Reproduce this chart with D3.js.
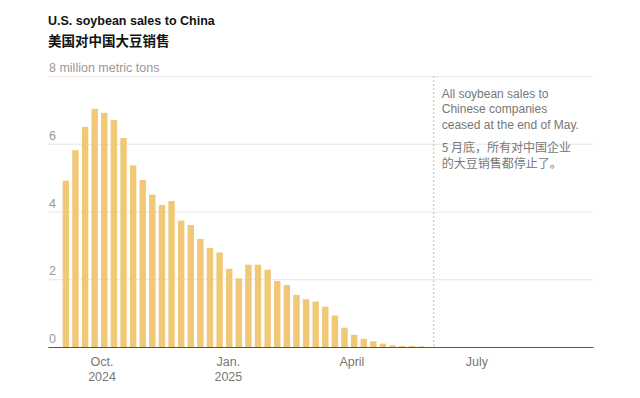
<!DOCTYPE html>
<html>
<head>
<meta charset="utf-8">
<script src="https://cdn.jsdelivr.net/npm/d3@7"></script>
<style>
  body { margin: 0; background: #fff; }
  text { font-family: "Liberation Sans", Arial, sans-serif; }
  .cjk { font-family: "Noto Sans CJK SC", sans-serif; }
</style>
</head>
<body>
<div id="chart"></div>
<script>
const width = 640;
const height = 398;
const margin = { top: 76, bottom: 51, left: 48, right: 47 };

// weekly export sales, week ending (Thursday)
const weeks = [
  "2024-09-05","2024-09-12","2024-09-19","2024-09-26",
  "2024-10-03","2024-10-10","2024-10-17","2024-10-24","2024-10-31",
  "2024-11-07","2024-11-14","2024-11-21","2024-11-28",
  "2024-12-05","2024-12-12","2024-12-19","2024-12-26",
  "2025-01-02","2025-01-09","2025-01-16","2025-01-23","2025-01-30",
  "2025-02-06","2025-02-13","2025-02-20","2025-02-27",
  "2025-03-06","2025-03-13","2025-03-20","2025-03-27",
  "2025-04-03","2025-04-10","2025-04-17","2025-04-24",
  "2025-05-01","2025-05-08","2025-05-15","2025-05-22"
];
// million metric tons
const sales = [
  4.91, 5.81, 6.50, 7.03, 6.91, 6.70, 6.17, 5.36, 4.93,
  4.50, 4.19, 4.31, 3.73, 3.60, 3.19, 2.92, 2.79,
  2.31, 2.03, 2.43, 2.43, 2.28, 1.95, 1.83, 1.54, 1.41,
  1.34, 1.19, 0.93, 0.57, 0.36, 0.24, 0.17, 0.10,
  0.05, 0.03, 0.03, 0.02
];
const yTicks = [0, 2, 4, 6, 8];
const xTicks = ["2024-10-01", "2025-01-01", "2025-04-01", "2025-07-01"];
const xTickLabels = [["Oct.", "2024"], ["Jan.", "2025"], ["April"], ["July"]];
const cutoff = "2025-05-31";
const noteEn = ["All soybean sales to", "Chinese companies", "ceased at the end of May."];
const noteZh = ["5 月底，所有对中国企业", "的大豆销售都停止了。"];

const parse = d3.timeParse("%Y-%m-%d");
const data = weeks.map((w, i) => ({ date: parse(w), value: sales[i] }));

const svg = d3.select("#chart")
  .append("svg")
  .attr("width", width)
  .attr("height", height);

const x = d3.scaleTime()
  .domain([parse("2024-08-23"), parse("2025-09-24")])
  .range([margin.left, width - margin.right]);

const y = d3.scaleLinear()
  .domain([0, 8])
  .range([height - margin.bottom, margin.top]);

// titles
svg.append("text")
  .attr("x", 48).attr("y", 25)
  .attr("font-size", 12.5).attr("font-weight", "bold").attr("fill", "#121212")
  .text("U.S. soybean sales to China");
svg.append("text")
  .attr("class", "cjk")
  .attr("x", 48).attr("y", 46)
  .attr("font-size", 13.5).attr("font-weight", "bold").attr("fill", "#121212")
  .text("美国对中国大豆销售");

// gridlines + y labels
const yAxis = svg.append("g")
  .attr("transform", `translate(${margin.left},0)`)
  .call(d3.axisRight(y)
    .tickValues(yTicks)
    .tickSize(width - margin.left - margin.right)
    .tickFormat(d => d === 8 ? "8 million metric tons" : d));
yAxis.select(".domain").remove();
yAxis.selectAll(".tick line")
  .attr("stroke", d => d === 0 ? "none" : "#e6e6e6");
yAxis.selectAll(".tick text")
  .attr("x", 1).attr("dy", -4.5)
  .attr("font-size", 12.5).attr("fill", "#999")
  .attr("font-family", "Liberation Sans, Arial, sans-serif");

// bars
const barW = 6.4;
svg.selectAll(".bar")
  .data(data)
  .enter().append("rect")
  .attr("class", "bar")
  .attr("x", d => x(d.date) - barW / 2)
  .attr("y", d => y(d.value))
  .attr("width", barW)
  .attr("height", d => y(0) - y(d.value))
  .attr("fill", "#f1c778");

// cutoff line
svg.append("line")
  .attr("x1", x(parse(cutoff))).attr("x2", x(parse(cutoff)))
  .attr("y1", y(8)).attr("y2", y(0))
  .attr("stroke", "#bbb").attr("stroke-dasharray", "2,2");

// x axis
const xAxis = svg.append("g")
  .attr("transform", `translate(0,${y(0)})`)
  .call(d3.axisBottom(x)
    .tickValues(xTicks.map(parse))
    .tickSize(0)
    .tickFormat(""));
xAxis.select(".domain").attr("stroke", "#555");
xAxis.selectAll(".tick text")
  .attr("y", 0).attr("dy", 0)
  .attr("font-size", 12.5).attr("fill", "#777")
  .attr("font-family", "Liberation Sans, Arial, sans-serif")
  .each(function (d, i) {
    d3.select(this).selectAll("tspan")
      .data(xTickLabels[i])
      .enter().append("tspan")
      .attr("x", 0)
      .attr("y", (t, j) => 19 + j * 15)
      .text(t => t);
  });

// note
const noteX = x(parse(cutoff)) + 8;
svg.append("text")
  .attr("font-size", 12).attr("fill", "#777")
  .selectAll("tspan")
  .data(noteEn)
  .enter().append("tspan")
  .attr("x", noteX)
  .attr("y", (d, i) => 98 + i * 15.3)
  .text(d => d);
svg.append("text")
  .attr("class", "cjk")
  .attr("font-size", 12).attr("fill", "#777")
  .selectAll("tspan")
  .data(noteZh)
  .enter().append("tspan")
  .attr("x", noteX)
  .attr("y", (d, i) => 152 + i * 16)
  .text(d => d);
</script>
</body>
</html>
